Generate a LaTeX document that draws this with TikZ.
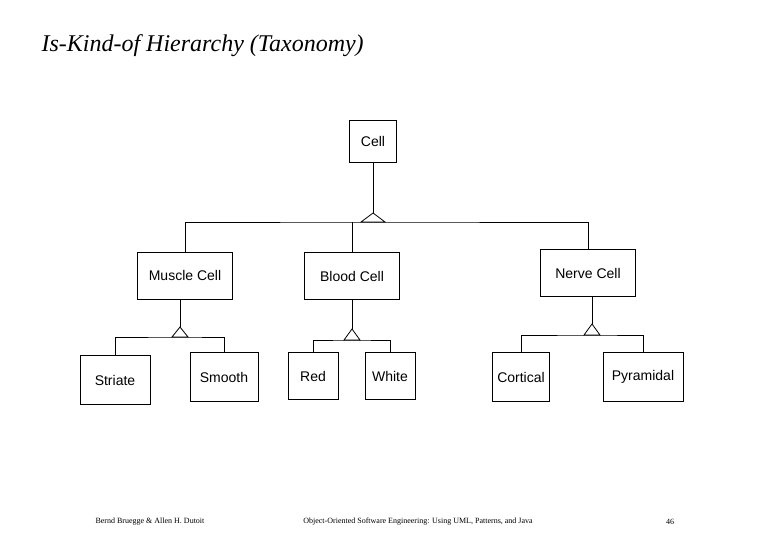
\documentclass[tikz,border=0pt]{standalone}
\usepackage{fontspec}
\setmainfont{Liberation Serif}
\newfontfamily\labelfont{Liberation Sans}
\begin{document}
\begin{tikzpicture}[x=1pt,y=-1pt,
    cls/.style={draw, thick, minimum width=#1, minimum height=47pt, inner sep=0pt, font=\labelfont\fontsize{14}{16}\selectfont},
    cls/.default=95pt,
    tri/.style={draw, thick, fill=white}]
    \useasboundingbox (0,0) rectangle (780,540);

    % Title
    \node[anchor=west, font=\itshape\fontsize{24}{28}\selectfont] (title) at (38,46) {Is-Kind-of Hierarchy (Taxonomy)};

    % Classes
    \node[cls=47pt, minimum height=42pt] (cell) at (373,141) {Cell};
    \node[cls] (muscle) at (185,276) {\raisebox{2pt}{Muscle Cell}};
    \node[cls] (blood) at (352,276) {Blood Cell};
    \node[cls] (nerve) at (588,273) {Nerve Cell};
    \node[cls=70pt, minimum height=49pt] (striate) at (115,380) {Striate};
    \node[cls=68pt, minimum height=49pt] (smooth) at (224,377) {Smooth};
    \node[cls=50pt, minimum height=47pt] (red) at (313,376) {Red};
    \node[cls=50pt, minimum height=47pt] (white) at (390,376) {White};
    \node[cls=57pt, minimum height=49pt] (cortical) at (521,377) {Cortical};
    \node[cls=80pt, minimum height=49pt] (pyramidal) at (643,377) {Pyramidal};

    % Generalization: Cell
    \coordinate (t0) at (373,222);
    \draw[thick] (cell.south) -- (373,213);
    \draw[thick] (muscle.north) |- (t0) -| (nerve.north);
    \draw[thick] (blood.north) -- (blood.north |- t0);
    \draw[tri] (361,222) -- (373,213) -- (385,222) -- cycle;

    % Generalization: Muscle Cell
    \coordinate (t1) at (180,337);
    \draw[thick] (muscle.south -| t1) -- (180,327);
    \draw[thick] (striate.north) |- (t1) -| (smooth.north);
    \draw[tri] (172,337) -- (180,327) -- (188,337) -- cycle;

    % Generalization: Blood Cell
    \coordinate (t2) at (352,340);
    \draw[thick] (blood.south) -- (352,329);
    \draw[thick] (red.north) |- (t2) -| (white.north);
    \draw[tri] (344,340) -- (352,329) -- (360,340) -- cycle;

    % Generalization: Nerve Cell
    \coordinate (t3) at (592,335);
    \draw[thick] (nerve.south -| t3) -- (592,324);
    \draw[thick] (cortical.north) |- (t3) -| (pyramidal.north);
    \draw[tri] (584,335) -- (592,324) -- (600,335) -- cycle;

    % Footer
    \node[font=\fontsize{8}{9}\selectfont] (authors) at (150,522) {Bernd Bruegge \& Allen H. Dutoit};
    \node[font=\fontsize{8}{9}\selectfont] (book) at (418,522) {Object-Oriented Software Engineering: Using UML, Patterns, and Java};
    \node[font=\fontsize{8}{9}\selectfont] (page) at (670,522) {46};
\end{tikzpicture}
\end{document}
